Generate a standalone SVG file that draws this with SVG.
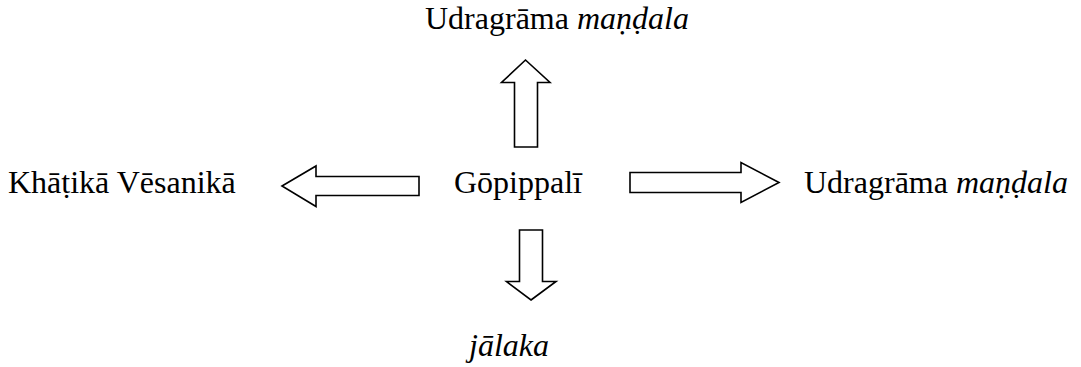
<svg xmlns="http://www.w3.org/2000/svg" width="1081" height="367" viewBox="0 0 1081 367">
<style>
text{font-family:'Liberation Serif','Times New Roman',Times,serif;font-size:32px;fill:#000}
.i{font-style:italic}
.a{fill:#fff;stroke:#000;stroke-width:1.6;stroke-linejoin:miter}
</style>
<rect width="1081" height="367" fill="#fff"/>
<g id="top"><text x="425" y="29">Udragrāma <tspan class="i">maṇḍala</tspan></text></g>
<g id="left"><text x="8" y="193">Khāṭikā Vēsanikā</text></g>
<g id="center"><text x="454" y="193">Gōpippalī</text></g>
<g id="right"><text x="804" y="193">Udragrāma <tspan class="i">maṇḍala</tspan></text></g>
<g id="bottom"><text class="i" x="469" y="356">jālaka</text></g>
<g id="connectors">
<polygon class="a" points="525.5,60 550,82.5 537.5,82.5 537.5,147 514.5,147 514.5,82.5 501.5,82.5"/>
<polygon class="a" points="282,186 316,166 316,176.5 419,176.5 419,195.5 316,195.5 316,206.5"/>
<polygon class="a" points="779,182.5 741,162.5 741,172.5 630,172.5 630,192.5 741,192.5 741,202.5"/>
<polygon class="a" points="531,300 556,281.5 542.5,281.5 542.5,230 519.5,230 519.5,281.5 506.5,281.5"/>
</g>
</svg>
